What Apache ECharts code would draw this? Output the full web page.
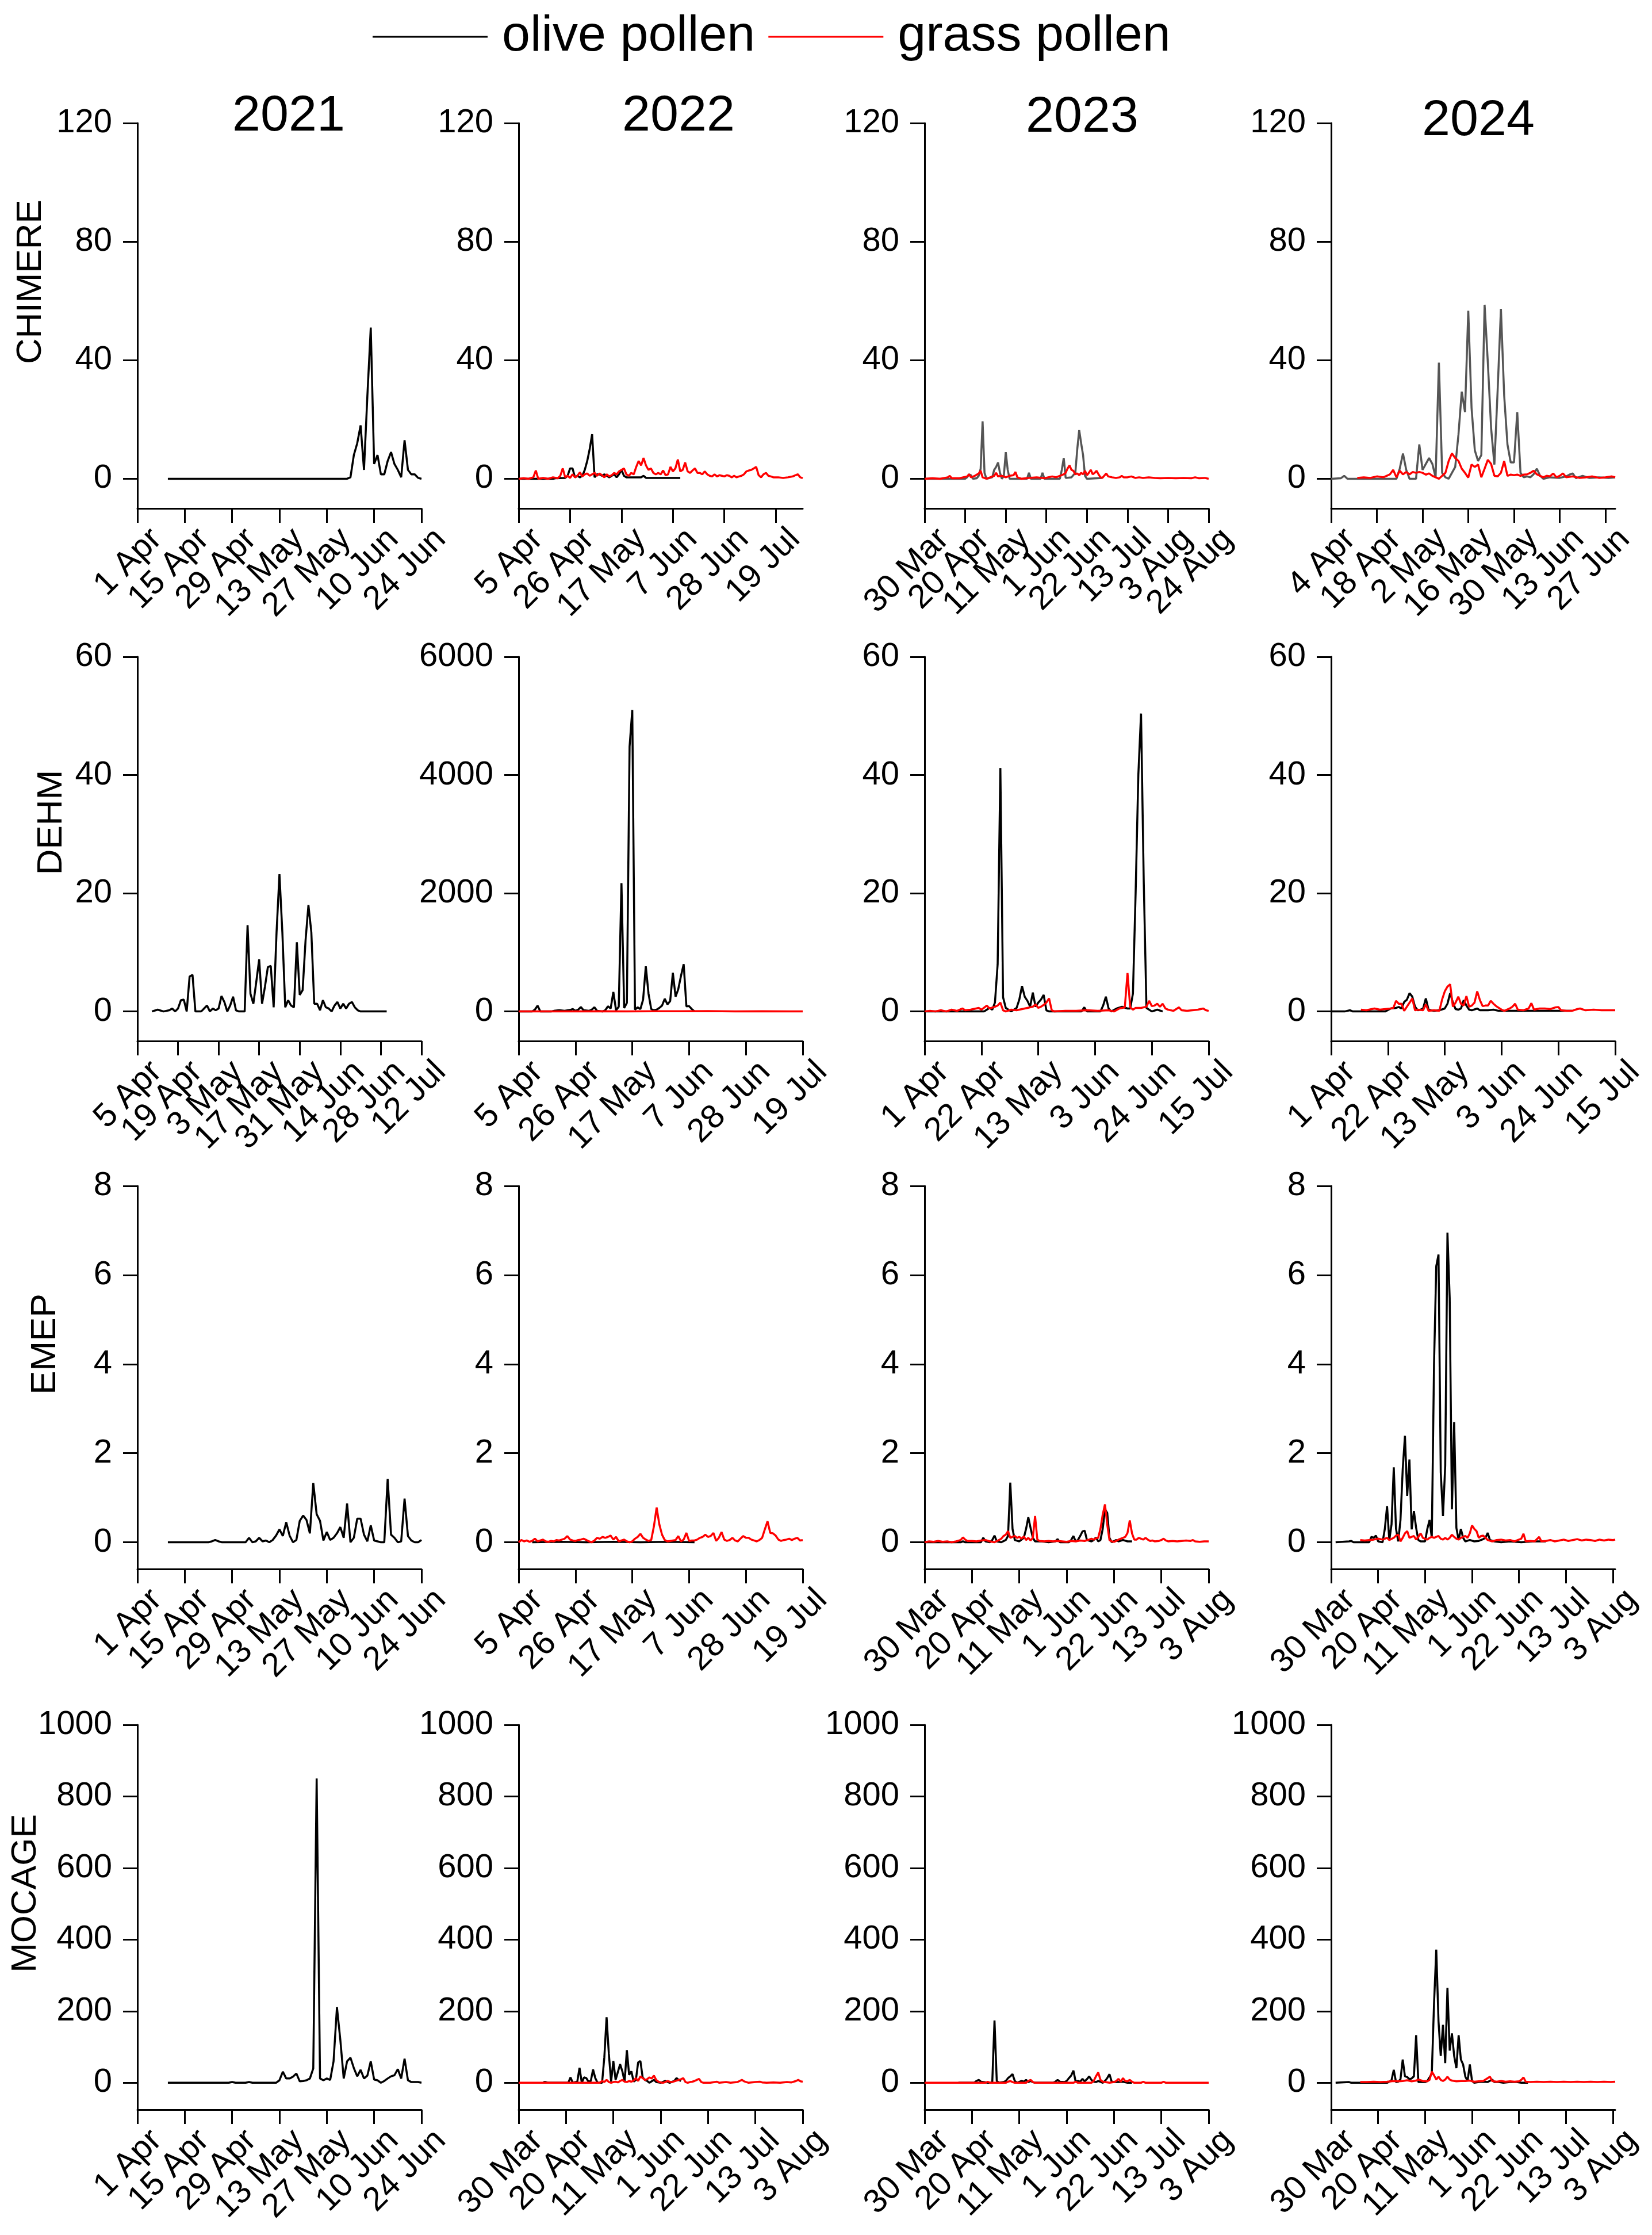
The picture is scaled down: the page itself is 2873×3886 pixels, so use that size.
<!DOCTYPE html>
<html>
<head>
<meta charset="utf-8">
<script src="https://cdn.jsdelivr.net/npm/echarts@6/dist/echarts.min.js"></script>
<style>
html,body{margin:0;padding:0;background:#fff;}
#chart{width:2873px;height:3886px;}
</style>
</head>
<body>
<div id="chart"></div>
<script>
// ---------------- tick labels ----------------
const ticksApr1w2 = ['1 Apr','15 Apr','29 Apr','13 May','27 May','10 Jun','24 Jun'];
const ticksApr5w3 = ['5 Apr','26 Apr','17 May','7 Jun','28 Jun','19 Jul'];
const ticksMar30w3Long = ['30 Mar','20 Apr','11 May','1 Jun','22 Jun','13 Jul','3 Aug','24 Aug'];
const ticksApr4w2 = ['4 Apr','18 Apr','2 May','16 May','30 May','13 Jun','27 Jun'];
const ticksApr5w2 = ['5 Apr','19 Apr','3 May','17 May','31 May','14 Jun','28 Jun','12 Jul'];
const ticksApr1w3 = ['1 Apr','22 Apr','13 May','3 Jun','24 Jun','15 Jul'];
const ticksMar30w3 = ['30 Mar','20 Apr','11 May','1 Jun','22 Jun','13 Jul','3 Aug'];

const yTicksChimere = [0,40,80,120];
const yTicksDehm = [0,20,40,60];
const yTicksDehm2022 = [0,2000,4000,6000];
const yTicksEmep = [0,2,4,6,8];
const yTicksMocage = [0,200,400,600,800,1000];

const models = ['CHIMERE','DEHM','EMEP','MOCAGE'];
const years = ['2021','2022','2023','2024'];
const seriesNames = ['olive pollen','grass pollen'];

// ---------------- data: [day offset from first tick, value] ----------------
const chimereOlive2021 = [[9,0],[62,0],[63,0.5],[64,8],[65,12],[66,18],[67,3],[68,28],[69,51],[70,5],[71,8],[72,1.5],[73,1.5],[74,6],[75,9],[76,5],[77,3],[78,0.5],[79,13],[80,3],[81,1.5],[82,1.5],[83,0.3],[84,0]];
const chimereOlive2022 = [[0,0],[14,0],[15,0.2],[19,0.3],[20,1],[21,3.5],[22,3.5],[23,0.5],[24,1],[25,0.5],[26,1],[27,3],[28,6],[29,10],[30,15],[31,0.5],[32,1.5],[33,1.5],[34,1],[35,1.5],[36,1],[37,0.5],[38,1],[39,1.5],[40,0.5],[41,1.5],[42,3],[43,1],[44,0.5],[50,0.5],[51,1],[52,0.3],[66,0.3]];
const chimereGrass2022 = [[0,0],[2,0.2],[4,0],[6,0.5],[7,2.8],[8,0],[10,0.3],[12,0],[14,0.5],[16,0.2],[17,1],[18,3.5],[19,0.5],[20,1],[21,0.3],[22,1.5],[23,0.5],[24,1],[25,2.2],[26,0.8],[27,1.5],[28,1.8],[29,1],[30,1.5],[31,2],[32,1],[33,1.8],[34,1.2],[35,0.5],[36,1.5],[37,0.8],[38,1.2],[39,2],[40,1.5],[41,2.5],[42,3],[43,3.5],[44,1.5],[45,1],[46,2],[47,1.5],[48,4],[49,6],[50,4.5],[51,7],[52,4.5],[53,3],[54,3.5],[55,2],[56,1.5],[57,2],[58,1.5],[59,2.8],[60,1.2],[61,1.5],[62,4],[63,2.5],[64,3.5],[65,6.5],[66,2.5],[67,3],[68,5.5],[69,2.5],[70,2],[71,2.8],[72,3.5],[73,2],[74,2],[75,1.5],[76,2.5],[77,1.5],[78,1],[79,0.8],[80,1.5],[81,0.8],[82,1.2],[83,1],[84,0.8],[85,1.2],[86,1],[87,0.5],[88,1],[89,0.5],[90,0.8],[91,1],[92,1.5],[93,2.5],[94,2.8],[95,3],[96,3.5],[97,4],[98,1.2],[99,0.5],[100,1.5],[101,2],[102,1],[103,0.8],[104,0.5],[106,0.5],[108,0.3],[110,0.5],[112,0.8],[113,1.2],[114,1.5],[115,0.5],[116,0.2]];
const chimereOlive2023 = [[0,0],[21,0],[22,0.5],[23,1.5],[24,1.2],[25,0],[27,0.2],[28,1],[29,3.4],[30,19.4],[31,2],[32,0],[35,0.5],[36,3],[37,4],[38,5.5],[39,2],[40,0],[41,1],[42,9],[43,3],[44,0],[53,0],[54,2],[55,0],[60,0],[61,2],[62,0],[70,0],[71,3],[72,7],[73,0.3],[76,0.5],[78,2],[79,10],[80,16.4],[81,12],[82,8],[83,1],[84,0],[92,0.3]];
const chimereGrass2023 = [[0,0],[4,0.2],[8,0],[12,0.5],[13,1],[14,0.2],[18,0.2],[22,0.8],[23,1.5],[24,0.5],[26,1],[28,1.8],[29,2.7],[30,0.5],[32,0],[34,0.5],[36,1],[37,2],[38,0.8],[40,1],[42,0.5],[44,1],[46,1.2],[47,2.3],[48,0.5],[50,0],[54,0.3],[58,0.5],[62,0.2],[66,0.8],[68,0.5],[70,1],[72,1.5],[73,2],[74,3.5],[75,4.5],[76,3],[77,2.7],[78,1.5],[79,1.8],[80,1.2],[81,2],[82,1.5],[83,2.7],[84,1.2],[85,2],[86,3],[87,1.5],[88,2],[89,2.7],[90,1.5],[91,0.5],[92,0.3],[94,1.8],[95,0.8],[97,0.5],[99,0.3],[101,0.5],[102,1],[103,0.5],[105,0.5],[107,0.8],[109,0.3],[111,0.5],[113,0.3],[116,0.5],[119,0.3],[122,0.2],[126,0.3],[130,0.2],[134,0.3],[138,0.2],[140,0.5],[142,0.2],[145,0.3],[147,0]];
const chimereOlive2024 = [[0,0],[3,0.2],[4,1],[5,0],[20,0],[21,3.4],[22,8.5],[23,3],[24,0],[26,0],[27,11.6],[28,3],[29,5],[30,7],[31,5],[32,0.5],[33,39.2],[34,2],[35,0.5],[36,0],[37,2],[38,4],[39,15],[40,29.4],[41,22.5],[42,56.7],[43,24],[44,9.6],[45,6],[46,8],[47,58.7],[48,39],[49,17],[50,4.8],[51,30],[52,57.3],[53,28],[54,11.6],[55,5.5],[56,5.5],[57,22.5],[58,2],[59,0.5],[60,0.8],[61,0.5],[62,1.5],[63,3.4],[64,1],[65,0],[67,0.5],[70,0.3],[72,0.8],[73,1.4],[74,1.8],[75,0.2],[77,1],[79,0.3],[82,0.5],[85,0.3],[87,0.5]];
const chimereGrass2024 = [[8,0.3],[10,0.5],[12,0.3],[14,0.8],[16,0.5],[17,1],[18,1.5],[19,3],[20,0.5],[21,2.7],[22,1.5],[23,2.3],[24,1.5],[25,2.3],[26,2],[27,2.3],[28,2],[29,1.4],[30,1.8],[31,1],[32,0.5],[33,0],[34,1],[35,2],[36,6],[37,8.6],[38,7],[39,6],[40,3.4],[41,2],[42,0.4],[43,4.8],[44,4],[45,4.8],[46,0.5],[47,3.4],[48,6.4],[49,5],[50,1],[51,0.8],[52,2],[53,6],[54,1],[55,1.4],[56,1.2],[57,1.4],[58,1],[59,1.4],[60,1.5],[61,2],[62,2.7],[63,1.5],[64,1],[65,0.5],[66,1],[67,0.8],[68,1.8],[69,0.5],[70,1],[71,1.8],[72,0.5],[74,0.8],[76,0.3],[78,0.5],[80,0.8],[82,0.3],[84,0.5],[86,0.8],[87,0.5]];

const dehmOlive2021 = [[5,0],[7,0.3],[9,0],[11,0.2],[12,0.5],[13,0],[14,0.5],[15,1.9],[16,2],[17,0],[18,5.9],[19,6.2],[20,0],[22,0],[23,0.5],[24,1],[25,0],[26,0.5],[27,0.2],[28,0.5],[29,2.6],[30,1.6],[31,0],[32,1],[33,2.5],[34,0.2],[35,0],[37,0],[38,14.6],[39,3],[40,1.3],[41,5],[42,8.8],[43,1.3],[44,4.2],[45,7.5],[46,7.7],[47,0.7],[48,13.4],[49,23.2],[50,13.4],[51,0.7],[52,1.9],[53,1],[54,0.7],[55,11.7],[56,2.8],[57,3.6],[58,12],[59,18],[60,13.4],[61,1.3],[62,1.3],[63,0.2],[64,1.9],[65,0.7],[66,0.5],[67,0],[68,1],[69,1.6],[70,0.5],[71,1.3],[72,0.5],[73,1.3],[74,1.6],[75,0.7],[76,0.2],[77,0],[86,0]];
const dehmOlive2022 = [[0,0],[5,0],[6,30],[7,98],[8,0],[12,0],[13,10],[15,20],[17,10],[19,25],[20,40],[21,10],[22,30],[23,75],[24,20],[26,10],[27,30],[28,70],[29,10],[31,0],[32,20],[33,87],[34,50],[35,330],[36,20],[37,80],[38,2170],[39,58],[40,145],[41,4480],[42,5100],[43,30],[44,70],[45,40],[46,200],[47,764],[48,300],[49,40],[50,20],[51,30],[52,60],[53,100],[54,214],[55,120],[56,174],[57,654],[58,250],[59,376],[60,600],[61,800],[62,87],[63,90],[64,40],[65,0]];
const dehmGrass2022 = [[0,0],[10,2],[20,1],[30,3],[40,2],[50,4],[60,3],[70,5],[80,2],[90,3],[100,1],[105,0]];
const dehmOlive2023 = [[0,0],[22,0],[23,0.3],[24,0.6],[25,0.3],[26,1.5],[27,8],[28,41.2],[29,2.4],[30,0.6],[32,0],[34,0.6],[35,2],[36,4.3],[37,2.5],[38,1.8],[39,0.8],[40,3.2],[41,0.8],[42,1.5],[43,2],[44,2.8],[45,0.2],[46,0],[58,0],[59,0.7],[60,0],[65,0],[66,1],[67,2.5],[68,0.5],[69,0],[71,0.5],[73,0.8],[75,0.5],[76,0.5],[77,3],[78,20],[79,40],[80,50.4],[81,22],[82,0.6],[84,0],[86,0.3],[88,0]];
const dehmGrass2023 = [[0,0],[2,0.1],[4,0],[6,0.2],[8,0],[10,0.3],[12,0.1],[14,0.5],[15,0.2],[17,0.3],[19,0.5],[20,0.6],[21,0.3],[23,1],[24,0.5],[26,0.8],[27,1],[28,1.5],[29,0.2],[30,0],[32,0.3],[34,0.2],[36,0.4],[38,0.6],[40,0.8],[41,1.2],[42,0.6],[43,0.8],[44,1.1],[45,1.5],[46,2.2],[47,0.2],[48,0],[52,0.1],[56,0.1],[60,0.2],[64,0.1],[68,0.2],[70,0],[72,0.5],[73,0.6],[74,0.7],[75,6.5],[76,0.7],[77,0.3],[78,0.6],[80,0.6],[82,0.8],[83,1.8],[84,0.9],[85,1],[86,1.3],[87,0.8],[88,1.3],[89,0.5],[90,0.3],[92,0.1],[93,0.4],[94,0.7],[95,0.2],[97,0.1],[99,0.2],[101,0.3],[103,0.5],[104,0.2],[105,0.1]];
const dehmOlive2024 = [[0,0],[5,0],[7,0.2],[8,0],[20,0],[22,0.5],[24,0.6],[25,0.75],[26,0.5],[27,1.6],[28,2],[29,3.1],[30,2.5],[31,0.8],[32,0.2],[33,0.3],[34,0.5],[35,2.2],[36,0.3],[38,0.1],[40,0.2],[42,0.5],[43,1.3],[44,3.1],[45,1.5],[46,0.4],[47,0.3],[48,0.5],[49,1.9],[50,1],[51,0.3],[52,0.2],[54,0.5],[55,0.2],[58,0.2],[60,0.3],[62,0.1],[89,0.1]];
const dehmGrass2024 = [[11,0.3],[13,0.2],[15,0.4],[16,0.5],[18,0.3],[20,0.4],[22,0.5],[23,0.6],[24,1.8],[25,1.3],[26,1.3],[27,0.1],[28,0.8],[29,1.5],[30,2.2],[31,0.2],[32,0.3],[34,0.2],[35,1.2],[36,0.1],[38,0.2],[40,0.1],[41,2],[42,3.4],[43,4.2],[44,4.6],[45,0.8],[46,1.5],[47,2.5],[48,1.3],[49,1],[50,2.6],[51,0.8],[52,1],[53,1.5],[54,3.4],[55,1.9],[56,0.9],[57,1],[58,1],[59,1.8],[60,1.3],[61,0.9],[62,0.6],[63,0.3],[64,0.1],[66,0.5],[67,0.8],[68,1.3],[69,0.3],[71,0.2],[73,0.5],[74,1.4],[75,0.3],[77,0.5],[79,0.5],[81,0.4],[83,0.7],[84,0.75],[85,0.2],[87,0.1],[89,0.1],[91,0.4],[92,0.5],[94,0.2],[97,0.3],[100,0.2],[103,0.2],[105,0.2]];

const emepOlive2021 = [[9,0],[21,0],[22,0.02],[23,0.05],[24,0.02],[25,0],[32,0],[33,0.1],[34,0],[35,0.02],[36,0.1],[37,0.02],[38,0.04],[39,0],[40,0.05],[41,0.15],[42,0.29],[43,0.14],[44,0.45],[45,0.15],[46,0],[47,0.05],[48,0.48],[49,0.6],[50,0.5],[51,0.2],[52,1.33],[53,0.63],[54,0.48],[55,0.04],[56,0.23],[57,0.05],[58,0.1],[59,0.2],[60,0.34],[61,0.1],[62,0.87],[63,0],[64,0.1],[65,0.53],[66,0.53],[67,0.17],[68,0.02],[69,0.38],[70,0.04],[71,0.02],[72,0],[73,0],[74,1.42],[75,0.17],[76,0.1],[77,0],[78,0.02],[79,0.98],[80,0.14],[81,0.04],[82,0],[83,0],[84,0.05]];
const emepOlive2022 = [[5,0],[15,0.01],[25,0],[35,0.01],[45,0],[55,0.01],[65,0]];
const emepGrass2022 = [[0,0],[1,0.05],[2,0.02],[3,0.04],[4,0.01],[5,0.03],[6,0.08],[7,0.02],[8,0.04],[9,0.06],[10,0.02],[11,0.01],[12,0.03],[13,0.02],[14,0.05],[15,0.04],[16,0.06],[17,0.08],[18,0.14],[19,0.06],[20,0.04],[21,0.03],[22,0.05],[23,0.06],[24,0.08],[25,0.05],[26,0.02],[27,0],[28,0.04],[29,0.1],[30,0.08],[31,0.12],[32,0.1],[33,0.12],[34,0.15],[35,0.06],[36,0.12],[37,0.02],[38,0.04],[39,0.06],[40,0.02],[41,0],[42,0.02],[43,0.08],[44,0.12],[45,0.19],[46,0.1],[47,0.06],[48,0.03],[49,0.05],[50,0.36],[51,0.78],[52,0.4],[53,0.17],[54,0.05],[55,0.02],[56,0.03],[57,0.04],[58,0.05],[59,0.14],[60,0.02],[61,0.06],[62,0.21],[63,0.03],[64,0.04],[65,0.04],[66,0.06],[67,0.1],[68,0.12],[69,0.17],[70,0.12],[71,0.14],[72,0.21],[73,0.03],[74,0.1],[75,0.23],[76,0.06],[77,0.03],[78,0.05],[79,0.1],[80,0.04],[81,0.02],[82,0.08],[83,0.14],[84,0.1],[85,0.1],[86,0.06],[87,0.04],[88,0.02],[89,0.05],[90,0.1],[91,0.29],[92,0.47],[93,0.21],[94,0.2],[95,0.15],[96,0.06],[97,0.03],[98,0.05],[99,0.06],[100,0.08],[101,0.05],[102,0.08],[103,0.1],[104,0.04],[105,0.05]];
const emepOlive2023 = [[0,0],[16,0],[17,0.02],[18,0],[25,0],[26,0.1],[27,0.02],[29,0],[30,0.05],[31,0.15],[32,0.02],[34,0],[36,0.05],[37,0.14],[38,1.34],[39,0.3],[40,0.05],[42,0.02],[44,0.1],[45,0.3],[46,0.56],[47,0.32],[48,0.1],[49,0.02],[52,0.02],[55,0],[58,0.02],[59,0.07],[60,0],[64,0],[65,0.05],[66,0.14],[67,0.02],[68,0.05],[69,0.14],[70,0.24],[71,0.26],[72,0.05],[74,0.02],[75,0.05],[76,0.11],[77,0.02],[78,0.05],[79,0.3],[80,0.74],[81,0.66],[82,0.1],[83,0],[85,0.05],[86,0.02],[88,0.05],[90,0.02],[92,0.02]];
const emepGrass2023 = [[0,0],[2,0.02],[4,0.01],[6,0.03],[8,0.01],[10,0.02],[12,0],[14,0.02],[16,0.05],[17,0.11],[18,0.06],[19,0.03],[21,0.03],[23,0.02],[25,0.04],[27,0.05],[29,0.02],[31,0],[33,0.05],[34,0.08],[35,0.14],[36,0.17],[37,0.25],[38,0.1],[39,0.12],[40,0.14],[41,0.1],[42,0.12],[43,0.08],[44,0.13],[45,0.05],[46,0.1],[47,0.04],[48,0.1],[49,0.59],[50,0.06],[51,0.03],[53,0.02],[55,0.03],[57,0.02],[59,0.03],[61,0.02],[63,0.01],[65,0.03],[67,0.02],[69,0.04],[71,0.03],[73,0.06],[74,0.08],[75,0.06],[76,0.09],[77,0.1],[78,0.3],[79,0.62],[80,0.85],[81,0.4],[82,0.05],[83,0.02],[84,0.01],[85,0.03],[86,0.06],[87,0.08],[88,0.1],[89,0.12],[90,0.21],[91,0.49],[92,0.2],[93,0.06],[94,0.06],[95,0.1],[96,0.08],[97,0.06],[98,0.1],[99,0.06],[100,0.03],[101,0.04],[102,0.02],[104,0.03],[105,0.05],[106,0.08],[107,0.04],[108,0.02],[110,0.03],[112,0.02],[114,0.03],[116,0.04],[118,0.03],[119,0.05],[120,0.02],[122,0.01],[124,0.02],[126,0.02]];
const emepOlive2024 = [[2,0],[8,0.02],[9,0.03],[10,0],[17,0],[18,0.12],[19,0.1],[20,0.15],[21,0.02],[23,0],[24,0.3],[25,0.81],[26,0.05],[27,0.4],[28,1.68],[29,0.3],[30,0.02],[31,0.5],[32,1.64],[33,2.39],[34,1.04],[35,1.86],[36,0.29],[37,0.7],[38,0.32],[39,0.05],[40,0.02],[42,0.02],[43,0.3],[44,0.5],[45,0.1],[46,4],[47,6.2],[48,6.46],[49,1.57],[50,0.59],[51,1.72],[52,6.95],[53,5.48],[54,0.74],[55,2.7],[56,0.32],[57,0.05],[58,0.3],[59,0.1],[60,0.02],[62,0.05],[64,0.02],[66,0.03],[68,0.07],[69,0.1],[70,0.21],[71,0.05],[73,0.02],[76,0],[80,0.02],[85,0],[90,0.02],[96,0.02]];
const emepGrass2024 = [[13,0.05],[15,0.04],[17,0.05],[19,0.06],[21,0.08],[23,0.06],[25,0.1],[26,0.05],[28,0.1],[29,0.15],[30,0.17],[31,0.02],[32,0.1],[33,0.2],[34,0.25],[35,0.1],[36,0.12],[37,0.14],[38,0.06],[39,0.12],[40,0.2],[41,0.1],[42,0.08],[43,0.06],[44,0.1],[45,0.12],[46,0.1],[47,0.12],[48,0.14],[49,0.08],[50,0.06],[51,0.1],[52,0.06],[53,0.1],[54,0.17],[55,0.12],[56,0.08],[57,0.06],[58,0.1],[59,0.12],[60,0.14],[61,0.1],[62,0.2],[63,0.38],[64,0.3],[65,0.25],[66,0.1],[67,0.14],[68,0.15],[69,0.1],[70,0.05],[72,0.02],[74,0.05],[76,0.06],[78,0.04],[80,0.05],[82,0.02],[84,0.06],[85,0.08],[86,0.19],[87,0.02],[89,0.03],[91,0.02],[93,0.12],[94,0.02],[96,0.03],[98,0.05],[100,0.02],[102,0.04],[104,0.06],[106,0.03],[108,0.05],[110,0.07],[112,0.04],[114,0.06],[116,0.05],[118,0.03],[120,0.06],[122,0.04],[124,0.06],[126,0.05],[127,0.06]];

const mocageOlive2021 = [[9,0],[27,0],[28,2],[29,0],[32,0],[33,2],[34,0],[41,0],[42,7],[43,31],[44,12],[45,12],[46,17],[47,26],[48,4],[49,5],[50,7],[51,12],[52,40],[53,850],[54,12],[55,7],[56,12],[57,8],[58,60],[59,211],[60,120],[61,12],[62,60],[63,70],[64,41],[65,18],[66,36],[67,12],[68,20],[69,60],[70,9],[71,7],[72,0],[73,5],[74,12],[75,18],[76,21],[77,38],[78,12],[79,67],[80,7],[81,2],[83,2],[84,0]];
const mocageOlive2022 = [[11,2],[12,2],[13,0],[22,0],[23,15],[24,0],[26,3],[27,42],[28,0],[29,15],[30,13],[31,3],[32,5],[33,37],[34,13],[35,0],[37,0],[38,71],[39,183],[40,81],[41,3],[42,61],[43,8],[44,30],[45,52],[46,32],[47,3],[48,91],[49,22],[50,32],[51,3],[52,8],[53,57],[54,61],[55,15],[56,8],[57,5],[58,0],[60,8],[61,2],[63,0],[65,5],[67,0],[69,5],[70,13],[71,8],[72,5]];
const mocageGrass2022 = [[0,0],[36,0],[37,5],[38,2],[39,8],[40,2],[41,0],[42,2],[43,3],[44,1],[45,5],[46,8],[47,3],[48,2],[49,5],[50,3],[51,6],[52,13],[53,5],[54,18],[55,13],[56,8],[57,10],[58,15],[59,12],[60,20],[61,8],[62,3],[63,1],[64,0],[65,2],[66,5],[67,3],[68,2],[69,4],[70,6],[71,8],[72,10],[73,13],[74,2],[75,0],[76,2],[77,3],[78,5],[79,8],[80,11],[81,2],[82,0],[85,0],[87,2],[88,3],[89,0],[92,2],[94,0],[97,2],[98,5],[99,8],[100,4],[101,2],[102,0],[105,2],[107,3],[108,1],[110,0],[113,1],[116,0],[119,2],[121,1],[123,5],[124,8],[125,4],[126,3]];
const mocageOlive2023 = [[15,0],[22,0],[23,5],[24,8],[25,3],[26,2],[28,0],[30,0],[31,174],[32,5],[33,0],[35,2],[36,5],[37,13],[38,18],[39,24],[40,5],[41,0],[43,5],[44,3],[45,8],[46,2],[47,5],[48,2],[49,0],[57,0],[58,3],[59,8],[60,3],[62,2],[63,5],[64,13],[65,20],[66,34],[67,3],[68,5],[69,3],[70,11],[71,4],[72,10],[73,18],[74,8],[75,3],[76,2],[77,5],[78,3],[79,0],[80,5],[81,13],[82,24],[83,3],[84,2],[86,2],[88,3],[90,0],[92,0]];
const mocageGrass2023 = [[0,0],[27,0],[28,3],[29,0],[36,0],[37,3],[38,5],[39,2],[40,0],[45,0],[46,5],[47,8],[48,2],[49,0],[66,0],[67,3],[68,0],[74,0],[75,5],[76,18],[77,29],[78,8],[79,3],[80,2],[82,0],[84,2],[85,5],[86,11],[87,3],[88,13],[89,5],[90,4],[91,8],[92,3],[93,0],[96,0],[97,3],[98,0],[105,0],[106,3],[107,0],[126,0]];
const mocageOlive2024 = [[2,0],[8,2],[9,0],[25,0],[26,3],[27,7],[28,36],[29,2],[30,3],[31,10],[32,65],[33,18],[34,16],[35,10],[36,12],[37,18],[38,133],[39,2],[40,2],[42,2],[43,5],[44,15],[45,26],[46,221],[47,372],[48,172],[49,75],[50,162],[51,55],[52,265],[53,90],[54,138],[55,75],[56,41],[57,133],[58,65],[59,51],[60,17],[61,5],[62,51],[63,5],[64,0],[66,2],[68,3],[70,2],[72,9],[73,2],[75,2],[77,0],[80,2],[83,2],[85,0],[88,0]];
const mocageGrass2024 = [[13,2],[16,2],[19,3],[22,2],[25,3],[28,5],[30,4],[32,5],[34,7],[36,4],[38,6],[39,9],[41,5],[43,4],[44,8],[45,31],[46,21],[47,9],[48,17],[49,8],[50,5],[51,9],[52,17],[53,9],[54,6],[56,4],[58,5],[60,5],[62,6],[64,3],[66,4],[68,5],[69,9],[70,13],[71,17],[72,5],[74,3],[76,5],[78,3],[80,4],[82,3],[84,4],[85,8],[86,15],[87,3],[89,2],[92,3],[95,2],[98,3],[101,2],[104,3],[107,2],[110,3],[113,2],[116,3],[119,2],[122,3],[125,2],[127,3]];

// ---------------- panel definitions (data refs + axis scales) ----------------
const panels = [
  {r:0,c:0,ticks:ticksApr1w2,step:14,xMax:84,yMin:-10,yMax:120,yTicks:yTicksChimere,olive:chimereOlive2021,grass:null,grey:false},
  {r:0,c:1,ticks:ticksApr5w3,step:21,xMax:116,yMin:-10,yMax:120,yTicks:yTicksChimere,olive:chimereOlive2022,grass:chimereGrass2022,grey:false},
  {r:0,c:2,ticks:ticksMar30w3Long,step:21,xMax:147,yMin:-10,yMax:120,yTicks:yTicksChimere,olive:chimereOlive2023,grass:chimereGrass2023,grey:true},
  {r:0,c:3,ticks:ticksApr4w2,step:14,xMax:87,yMin:-10,yMax:120,yTicks:yTicksChimere,olive:chimereOlive2024,grass:chimereGrass2024,grey:true},
  {r:1,c:0,ticks:ticksApr5w2,step:14,xMax:98,yMin:-5,yMax:60,yTicks:yTicksDehm,olive:dehmOlive2021,grass:null,grey:false},
  {r:1,c:1,ticks:ticksApr5w3,step:21,xMax:105,yMin:-500,yMax:6000,yTicks:yTicksDehm2022,olive:dehmOlive2022,grass:dehmGrass2022,grey:false},
  {r:1,c:2,ticks:ticksApr1w3,step:21,xMax:105,yMin:-5,yMax:60,yTicks:yTicksDehm,olive:dehmOlive2023,grass:dehmGrass2023,grey:false},
  {r:1,c:3,ticks:ticksApr1w3,step:21,xMax:105,yMin:-5,yMax:60,yTicks:yTicksDehm,olive:dehmOlive2024,grass:dehmGrass2024,grey:false},
  {r:2,c:0,ticks:ticksApr1w2,step:14,xMax:84,yMin:-0.6,yMax:8,yTicks:yTicksEmep,olive:emepOlive2021,grass:null,grey:false},
  {r:2,c:1,ticks:ticksApr5w3,step:21,xMax:105,yMin:-0.6,yMax:8,yTicks:yTicksEmep,olive:emepOlive2022,grass:emepGrass2022,grey:false},
  {r:2,c:2,ticks:ticksMar30w3,step:21,xMax:126,yMin:-0.6,yMax:8,yTicks:yTicksEmep,olive:emepOlive2023,grass:emepGrass2023,grey:false},
  {r:2,c:3,ticks:ticksMar30w3,step:21,xMax:127,yMin:-0.6,yMax:8,yTicks:yTicksEmep,olive:emepOlive2024,grass:emepGrass2024,grey:false},
  {r:3,c:0,ticks:ticksApr1w2,step:14,xMax:84,yMin:-75,yMax:1000,yTicks:yTicksMocage,olive:mocageOlive2021,grass:null,grey:false},
  {r:3,c:1,ticks:ticksMar30w3,step:21,xMax:126,yMin:-75,yMax:1000,yTicks:yTicksMocage,olive:mocageOlive2022,grass:mocageGrass2022,grey:false},
  {r:3,c:2,ticks:ticksMar30w3,step:21,xMax:126,yMin:-75,yMax:1000,yTicks:yTicksMocage,olive:mocageOlive2023,grass:mocageGrass2023,grey:false},
  {r:3,c:3,ticks:ticksMar30w3,step:21,xMax:127,yMin:-75,yMax:1000,yTicks:yTicksMocage,olive:mocageOlive2024,grass:mocageGrass2024,grey:false}
];

// ---------------- layout ----------------
const colLeft = [239, 902, 1608, 2315];
const gridW = 494;
const rowTop = [214, 1142, 2062, 2999];
const rowBottom = [884, 1810, 2728, 3668];
const rowLabelPos = [[54,490],[90,1430],[79,2337],[45,3292]];
const colTitlePos = [[502,203],[1180,203],[1882,205],[2571,211]];

const FONT = "'Liberation Sans', Arial, Helvetica, sans-serif";
const AX = {color:'#000', width:3};
const EPS = 1e-6;

const grid=[], xAxis=[], yAxis=[], series=[];
panels.forEach((p,i)=>{
  grid.push({left:colLeft[p.c], top:rowTop[p.r], width:gridW, height:rowBottom[p.r]-rowTop[p.r], containLabel:false});
  const xt = p.ticks.map((_,k)=>k*p.step);
  // real label positions nudged off the exact extent ends; the exact ends carry empty guard labels
  const xl = xt.map(v => v <= 0 ? EPS : (v >= p.xMax ? p.xMax - EPS : v));
  const labelVals = [0].concat(xl, [p.xMax]);
  const tickVals = [xt[0]].concat(xt, [xt[xt.length-1]]);
  xAxis.push({
    type:'value', gridIndex:i, min:0, max:p.xMax,
    axisLine:{show:true,onZero:false,lineStyle:AX},
    axisTick:{show:true,length:25,inside:false,lineStyle:AX,customValues:tickVals},
    axisLabel:{show:true,customValues:labelVals,rotate:45,margin:78,padding:[0,-47,0,0],
      showMinLabel:false,showMaxLabel:false,hideOverlap:false,
      color:'#000',fontFamily:FONT,fontSize:58,
      formatter:(v)=>{
        if (v === 0 || v === p.xMax) return '';
        const k=Math.round(v/p.step);
        return p.ticks[k]!==undefined?p.ticks[k]:'';
      }},
    splitLine:{show:false}
  });
  yAxis.push({
    type:'value', gridIndex:i, min:p.yMin, max:p.yMax,
    axisLine:{show:true,onZero:false,lineStyle:AX},
    axisTick:{show:true,length:25,inside:false,lineStyle:AX,customValues:p.yTicks},
    axisLabel:{show:true,customValues:p.yTicks,margin:44,showMinLabel:true,showMaxLabel:true,
      color:'#000',fontFamily:FONT,fontSize:58,formatter:(v)=>String(v)},
    splitLine:{show:false}
  });
  const oc = p.grey ? '#555555' : '#000000';
  series.push({name:seriesNames[0],type:'line',xAxisIndex:i,yAxisIndex:i,data:p.olive,showSymbol:false,symbol:'none',
    color:'#000000',lineStyle:{color:oc,width:3.5},z:2});
  if(p.grass){
    series.push({name:seriesNames[1],type:'line',xAxisIndex:i,yAxisIndex:i,data:p.grass,showSymbol:false,symbol:'none',
      color:'#ff0000',lineStyle:{color:'#ff0000',width:3.5},z:3});
  }
});

const graphic = [];
models.forEach((m,r)=>{
  graphic.push({type:'text',x:rowLabelPos[r][0],y:rowLabelPos[r][1],rotation:Math.PI/2,
    style:{text:m,fontFamily:FONT,fontSize:62,fill:'#000',align:'center',verticalAlign:'middle'}});
});
years.forEach((y,c)=>{
  graphic.push({type:'text',x:colTitlePos[c][0],y:colTitlePos[c][1],
    style:{text:y,fontFamily:FONT,fontSize:88,fill:'#000',align:'center',verticalAlign:'middle'}});
});

const chart = echarts.init(document.getElementById('chart'), null, {renderer:'canvas', width:2873, height:3886});
chart.setOption({
  backgroundColor:'#fff',
  animation:false,
  legend:{
    data:seriesNames.map(n=>({name:n,icon:'rect'})),
    left:648, top:20, padding:0,
    itemWidth:200, itemHeight:3, itemGap:23,
    textStyle:{fontFamily:FONT,fontSize:88,color:'#000',padding:[0,0,0,20]},
    selectedMode:false
  },
  grid, xAxis, yAxis, series, graphic
});
</script>
</body>
</html>
